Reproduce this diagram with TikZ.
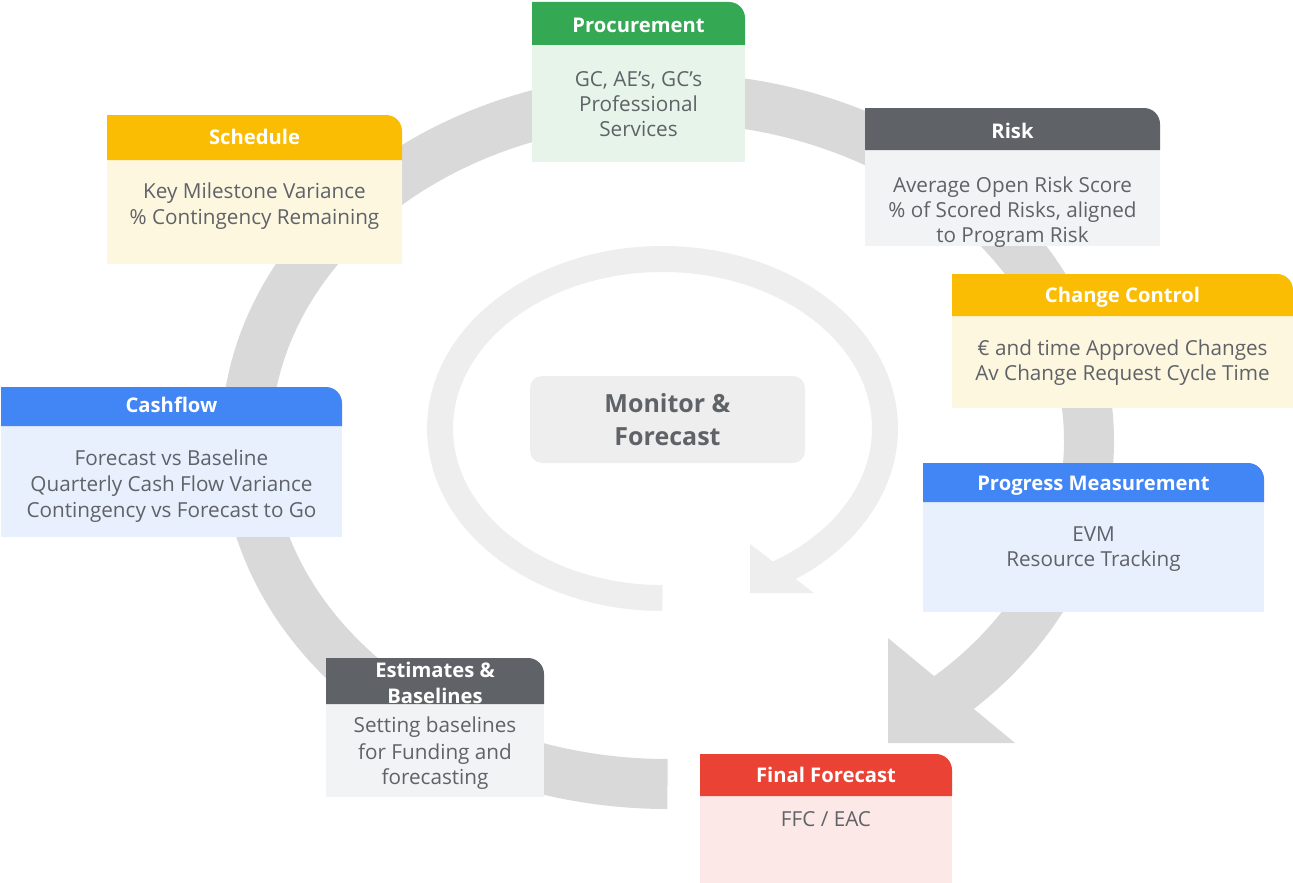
\documentclass[tikz,border=0pt]{standalone}
\usepackage{fontspec}
\setmainfont{Open Sans}
\definecolor{tgray}{HTML}{5F6368}
\definecolor{bandA}{HTML}{D9D9D9}
\definecolor{bandB}{HTML}{EEEEEE}
\definecolor{greenH}{HTML}{34A853}
\definecolor{greenL}{HTML}{E6F4EA}
\definecolor{yelH}{HTML}{FBBC04}
\definecolor{yelL}{HTML}{FEF7E0}
\definecolor{greyH}{HTML}{5F6368}
\definecolor{greyL}{HTML}{F1F3F4}
\definecolor{blueH}{HTML}{4285F4}
\definecolor{blueL}{HTML}{E8F0FE}
\definecolor{redH}{HTML}{EA4335}
\definecolor{redL}{HTML}{FCE8E6}
\begin{document}
\begin{tikzpicture}[x=1pt,y=1pt,
  ttl/.style={font=\bfseries\fontsize{20.2}{24}\selectfont,text=white,inner sep=0pt,text height=14.4pt,text depth=0pt},
  ln/.style={font=\fontsize{20.7}{24}\selectfont,text=tgray,inner sep=0pt,text height=14.8pt,text depth=0pt},
  mid/.style={font=\bfseries\fontsize{25}{30}\selectfont,text=tgray,inner sep=0pt,text height=18pt,text depth=0pt},
  cardbody/.style={inner sep=0pt,outer sep=0pt,anchor=north west,draw=none},
  bigband/.style={draw=bandA,line width=50pt,line cap=butt},
  smallband/.style={draw=bandB,line width=26pt,line cap=butt},
]
\useasboundingbox (0,0) rectangle (1293,-883);

% big cycle arrow
\draw[bigband] (667.5,-784) arc[start angle=-90,end angle=-410,x radius=421.5,y radius=343];
\fill[bandA] (888,-638) -- (888,-743) -- (1015,-743) -- cycle;

% inner cycle arrow
\draw[smallband] (662.5,-598) arc[start angle=-90,end angle=-419,x radius=222.5,y radius=169.5];
\fill[bandB] (750,-544) -- (750,-593) -- (814,-593) -- cycle;

% centre box
\node[fill=bandB,rounded corners=12pt,minimum width=275pt,minimum height=87pt,inner sep=0pt] (centre) at (667.5,-419.5) {};
\node[mid] (m1) at (667.5,-403.5) {Monitor \&};
\node[mid] (m2) at (667.5,-436) {Forecast};

% Procurement
\node[cardbody,fill=greenL,minimum width=213pt,minimum height=117pt] (procB) at (532,-45) {};
\fill[greenH] (532,-45) -- (532,-2) -- (729,-2) arc[start angle=90,end angle=0,radius=16] -- (745,-45) -- cycle;
\node[ttl] (procT) at (638.5,-25) {Procurement};
\node[ln] (proc1) at (638.5,-79) {GC, AE’s, GC’s};
\node[ln] (proc2) at (638.5,-104.5) {Professional};
\node[ln] (proc3) at (638.5,-129.5) {Services};

% Schedule
\node[cardbody,fill=yelL,minimum width=295pt,minimum height=104pt] (schB) at (107,-160) {};
\fill[yelH] (107,-160) -- (107,-115) -- (386,-115) arc[start angle=90,end angle=0,radius=16] -- (402,-160) -- cycle;
\node[ttl] (schT) at (254.5,-137.5) {Schedule};
\node[ln] (sch1) at (254.5,-191) {Key Milestone Variance};
\node[ln] (sch2) at (254.5,-217) {\% Contingency Remaining};

% Risk
\node[cardbody,fill=greyL,minimum width=295pt,minimum height=96pt] (riskB) at (865,-150) {};
\fill[greyH] (865,-150) -- (865,-108) -- (1144,-108) arc[start angle=90,end angle=0,radius=16] -- (1160,-150) -- cycle;
\node[ttl] (riskT) at (1012.5,-131) {Risk};
\node[ln] (risk1) at (1012.5,-185.5) {Average Open Risk Score};
\node[ln] (risk2) at (1012.5,-210.5) {\% of Scored Risks, aligned};
\node[ln] (risk3) at (1012.5,-235) {to Program Risk};

% Change Control
\node[cardbody,fill=yelL,minimum width=341pt,minimum height=92pt] (chgB) at (952,-316) {};
\fill[yelH] (952,-316) -- (952,-274) -- (1277,-274) arc[start angle=90,end angle=0,radius=16] -- (1293,-316) -- cycle;
\node[ttl] (chgT) at (1122.5,-295.5) {Change Control};
\node[ln] (chg1) at (1122.5,-348) {€ and time Approved Changes};
\node[ln] (chg2) at (1122.5,-373.5) {Av Change Request Cycle Time};

% Cashflow
\node[cardbody,fill=blueL,minimum width=341pt,minimum height=111pt] (cashB) at (1,-426) {};
\fill[blueH] (1,-426) -- (1,-387) -- (326,-387) arc[start angle=90,end angle=0,radius=16] -- (342,-426) -- cycle;
\node[ttl] (cashT) at (171.5,-405.5) {Cashflow};
\node[ln] (cash1) at (171.5,-458) {Forecast vs Baseline};
\node[ln] (cash2) at (171.5,-484) {Quarterly Cash Flow Variance};
\node[ln] (cash3) at (171.5,-510) {Contingency vs Forecast to Go};

% Progress Measurement
\node[cardbody,fill=blueL,minimum width=341pt,minimum height=110pt] (progB) at (923,-502) {};
\fill[blueH] (923,-502) -- (923,-463) -- (1248,-463) arc[start angle=90,end angle=0,radius=16] -- (1264,-502) -- cycle;
\node[ttl] (progT) at (1093.5,-483) {Progress Measurement};
\node[ln] (prog1) at (1093.5,-534.5) {EVM};
\node[ln] (prog2) at (1093.5,-559.5) {Resource Tracking};

% Estimates & Baselines
\node[cardbody,fill=greyL,minimum width=218pt,minimum height=93pt] (estB) at (326,-704) {};
\fill[greyH] (326,-704) -- (326,-658) -- (528,-658) arc[start angle=90,end angle=0,radius=16] -- (544,-704) -- cycle;
\node[ttl] (estT1) at (435,-670) {Estimates \&};
\node[ttl] (estT2) at (435,-696) {Baselines};
\node[ln] (est1) at (435,-725.5) {Setting baselines};
\node[ln] (est2) at (435,-752) {for Funding and};
\node[ln] (est3) at (435,-777) {forecasting};

% Final Forecast
\node[cardbody,fill=redL,minimum width=252pt,minimum height=87pt] (finB) at (700,-796) {};
\fill[redH] (700,-796) -- (700,-754) -- (936,-754) arc[start angle=90,end angle=0,radius=16] -- (952,-796) -- cycle;
\node[ttl] (finT) at (826,-775.5) {Final Forecast};
\node[ln] (fin1) at (826,-819.5) {FFC / EAC};
\end{tikzpicture}
\end{document}
